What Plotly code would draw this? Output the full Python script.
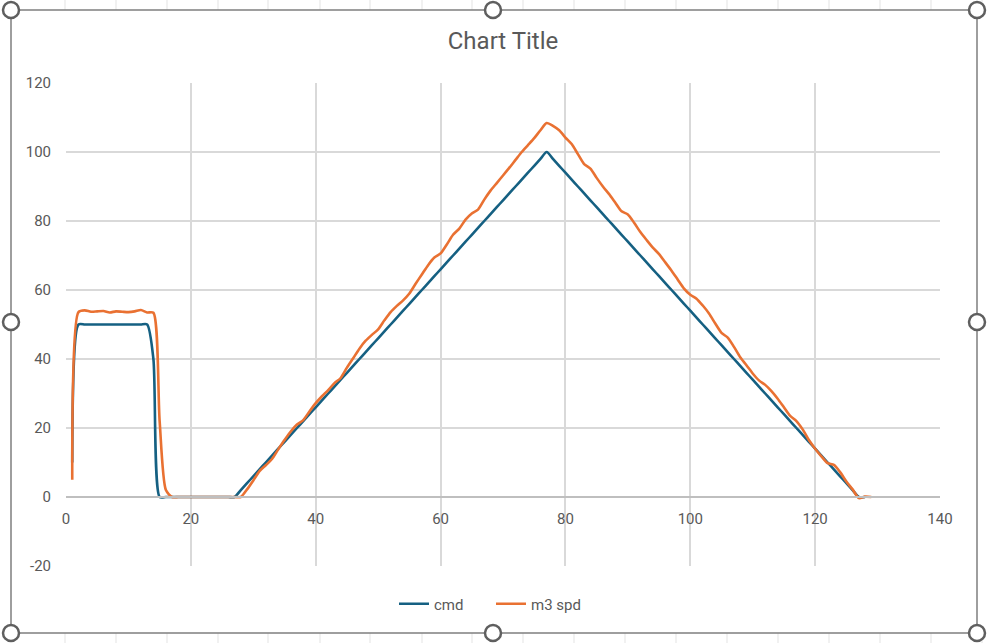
import plotly.graph_objects as go

# ---- data ----
x_cmd = list(range(1, 129))
cmd = [10, 50, 50, 50, 50, 50, 50, 50, 50, 50, 50, 50, 50, 40, 0,
       0, 0, 0, 0, 0, 0, 0, 0, 0, 0, 0, 0,
       2, 4, 6, 8, 10, 12, 14, 16, 18, 20, 22, 24, 26, 28, 30, 32, 34, 36, 38, 40,
       42, 44, 46, 48, 50, 52, 54, 56, 58, 60, 62, 64, 66, 68, 70, 72, 74, 76, 78, 80,
       82, 84, 86, 88, 90, 92, 94, 96, 98, 100,
       98, 96, 94, 92, 90, 88, 86, 84, 82, 80, 78, 76, 74, 72, 70, 68, 66, 64, 62, 60,
       58, 56, 54, 52, 50, 48, 46, 44, 42, 40, 38, 36, 34, 32, 30, 28, 26, 24, 22, 20,
       18, 16, 14, 12, 10, 8, 6, 4, 2, 0, 0]

x_spd = list(range(1, 130))
m3_spd = [5, 53.6, 54.1, 53.7, 53.8, 53.9, 53.5, 53.8, 53.7, 53.6, 53.8, 54.2, 53.5, 53.4, 22,
          2, 0, 0, 0, 0, 0, 0, 0, 0, 0, 0, 0, 0,
          2.2, 4.8, 7.5, 9.2, 11, 13.8, 16.5, 19, 21, 22.3, 24.8, 27.2,
          29.2, 31, 33, 34.5, 37.5, 40.2, 43, 45.3, 47, 48.6,
          51.2, 53.6, 55.4, 57, 59, 61.8, 64.5, 67.2, 69.4, 70.6,
          73.2, 76, 77.8, 80.4, 82.2, 83.3, 86.2, 88.8, 91, 93.2,
          95.4, 97.7, 100, 102, 104, 106.3, 108.4, 107.6, 106.3, 104.2,
          102.3, 99.4, 96.5, 95.2, 92.5, 90, 87.8, 85.3, 82.8, 81.9,
          79.5, 76.8, 74.5, 72.3, 70.4, 68, 65.6, 63, 60.4, 58.6,
          57.5, 55.5, 53.2, 50.3, 47.6, 46.2, 43.5, 40.5, 38.2, 35.8,
          33.8, 32.5, 30.7, 28.5, 26, 23.5, 22, 19.6, 16.5, 14,
          11.8, 9.8, 9.3, 7.2, 4.5, 2.2, -0.3, 0.1, 0]

x_ticks = [0, 20, 40, 60, 80, 100, 120, 140]
x_tick_text = ["0", "20", "40", "60", "80", "100", "120", "140"]
y_ticks = [-20, 0, 20, 40, 60, 80, 100, 120]
y_tick_text = ["-20", "0", "20", "40", "60", "80", "100", "120"]

W, H = 987, 643
L, R, T, B = 66, 47, 83, 77
PW, PH = W - L - R, H - T - B


def px(xp):
    return (xp - L) / PW


def py(yp):
    return (H - B - yp) / PH


fig = go.Figure()
fig.add_trace(go.Scatter(x=x_cmd, y=cmd, mode="lines", name="cmd",
                         line=dict(color="#156082", width=2.6, shape="spline", smoothing=0.7)))
fig.add_trace(go.Scatter(x=x_spd, y=m3_spd, mode="lines", name="m3 spd",
                         line=dict(color="#E97132", width=2.6, shape="spline", smoothing=0.7)))

grid = "#d9d9d9"
txt = "#595959"

shapes = []
# faint spreadsheet grid outside the chart
for gx in [65, 116, 167, 218, 268, 320, 370, 422, 472, 523, 574, 625, 676, 727, 778, 829, 880, 931, 982]:
    shapes.append(dict(type="line", xref="paper", yref="paper",
                       x0=px(gx), x1=px(gx), y0=py(0), y1=py(10),
                       line=dict(color="#e3e3e3", width=1), layer="below"))
    shapes.append(dict(type="line", xref="paper", yref="paper",
                       x0=px(gx), x1=px(gx), y0=py(633), y1=py(643),
                       line=dict(color="#e3e3e3", width=1), layer="below"))
# chart area border
shapes.append(dict(type="rect", xref="paper", yref="paper",
                   x0=px(11), x1=px(977), y0=py(633), y1=py(10),
                   fillcolor="white",
                   line=dict(color="#7f7f7f", width=1.5), layer="below"))
# selection handles
for hx, hy in [(11, 10), (493, 10), (977, 10), (11, 322), (977, 322),
               (11, 633), (493, 633), (977, 633)]:
    shapes.append(dict(type="circle", xref="paper", yref="paper",
                       xsizemode="pixel", ysizemode="pixel",
                       xanchor=px(hx), yanchor=py(hy),
                       x0=-8, x1=8, y0=-8, y1=8,
                       fillcolor="white", line=dict(color="#5f5f5f", width=2.5),
                       layer="above"))

fig.update_layout(
    width=W, height=H,
    margin=dict(l=L, r=R, t=T, b=B),
    paper_bgcolor="white", plot_bgcolor="rgba(0,0,0,0)",
    font=dict(family="Roboto, Open Sans, sans-serif", color=txt, size=14),
    title=dict(text="Chart Title", x=0.5, xref="paper", xanchor="center",
               y=1 - 41 / H, yanchor="middle",
               font=dict(size=24, color=txt)),
    showlegend=True,
    legend=dict(orientation="h", x=px(491), xanchor="center", xref="paper",
                y=py(604), yanchor="middle", font=dict(size=15, color=txt),
                entrywidth=52, entrywidthmode="pixels", tracegroupgap=0),
    shapes=shapes,
    xaxis=dict(range=[0, 140], tickvals=x_ticks, ticktext=x_tick_text,
               showgrid=True, gridcolor=grid,
               gridwidth=1.6, zeroline=False, showline=True, linecolor="#bfbfbf",
               linewidth=1.6, anchor="free", position=20 / 140, ticks="",
               tickfont=dict(size=15, color=txt), ticklabelstandoff=8),
    yaxis=dict(range=[-20, 120], tickvals=y_ticks, ticktext=y_tick_text,
               showgrid=True, gridcolor=grid,
               gridwidth=1.6, zeroline=False, showline=False, ticks="",
               tickfont=dict(size=15, color=txt), ticklabelstandoff=14),
)

fig.write_html("out.html", post_script="document.body.style.margin='0';",
               config={"displayModeBar": False})
